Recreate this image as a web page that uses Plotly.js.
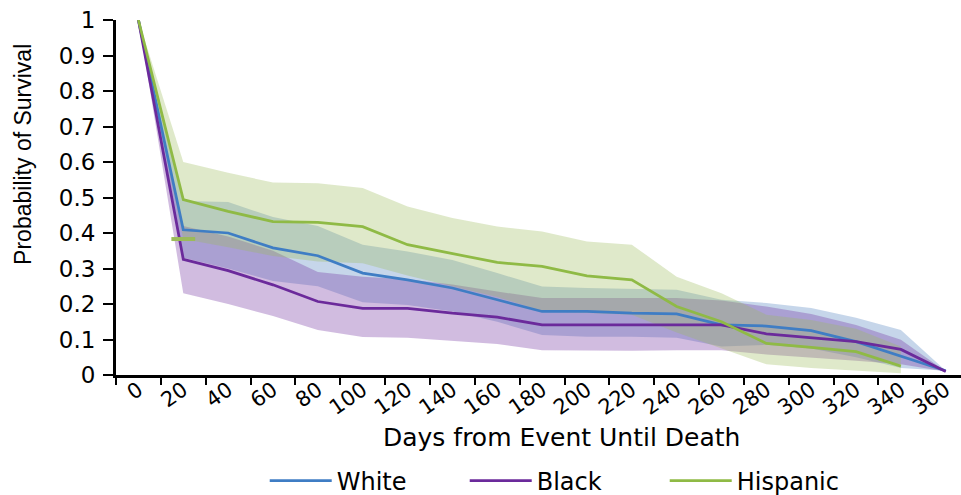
<!DOCTYPE html>
<html><head><meta charset="utf-8">
<script src="https://cdn.plot.ly/plotly-3.0.1.min.js"></script>
<style>html,body{margin:0;padding:0;background:#fff;overflow:hidden}#chart{width:961px;height:495px}</style>
</head><body><div id="chart"></div>
<script>
// Categories (days from event until death)
const days = ['0','20','40','60','80','100','120','140','160','180','200','220','240','260','280','300','320','340','360'];

// White
const white      = [1, 0.409, 0.400, 0.358, 0.336, 0.287, 0.268, 0.245, 0.212, 0.179, 0.179, 0.174, 0.172, 0.141, 0.138, 0.125, 0.094, 0.052, 0.012];
const whiteUpper = [1, 0.490, 0.487, 0.445, 0.420, 0.367, 0.348, 0.324, 0.287, 0.249, 0.245, 0.242, 0.240, 0.212, 0.203, 0.189, 0.161, 0.127, 0.012];
const whiteLower = [1, 0.330, 0.300, 0.265, 0.250, 0.205, 0.197, 0.179, 0.150, 0.113, 0.108, 0.108, 0.105, 0.080, 0.085, 0.075, 0.050, 0.020, 0.012];

// Black
const black      = [1, 0.326, 0.294, 0.254, 0.207, 0.188, 0.188, 0.174, 0.163, 0.141, 0.141, 0.141, 0.141, 0.141, 0.116, 0.105, 0.094, 0.072, 0.010];
const blackUpper = [1, 0.420, 0.390, 0.350, 0.290, 0.277, 0.270, 0.255, 0.235, 0.217, 0.217, 0.217, 0.217, 0.210, 0.193, 0.172, 0.141, 0.099, 0.010];
const blackLower = [1, 0.230, 0.200, 0.166, 0.127, 0.107, 0.105, 0.097, 0.087, 0.070, 0.068, 0.068, 0.070, 0.070, 0.058, 0.050, 0.040, 0.030, 0.010];

// Hispanic (no estimate at 360)
const hispanic      = [1, 0.494, 0.461, 0.432, 0.430, 0.418, 0.367, 0.343, 0.317, 0.306, 0.279, 0.268, 0.193, 0.150, 0.089, 0.078, 0.066, 0.025];
const hispanicUpper = [1, 0.600, 0.570, 0.542, 0.540, 0.527, 0.475, 0.442, 0.418, 0.404, 0.376, 0.367, 0.277, 0.230, 0.170, 0.155, 0.130, 0.080];
const hispanicLower = [1, 0.383, 0.360, 0.335, 0.320, 0.315, 0.280, 0.250, 0.220, 0.180, 0.175, 0.170, 0.120, 0.075, 0.030, 0.020, 0.012, 0.005];

const seriesNames = ['White', 'Black', 'Hispanic'];
const lineColors  = ['#3f7dc4', '#6b2a9b', '#8fba45'];
const bandColors  = ['rgba(79,129,189,0.32)', 'rgba(112,48,160,0.32)', 'rgba(155,187,89,0.32)'];

const groups = [
  {y: white, up: whiteUpper, lo: whiteLower},
  {y: black, up: blackUpper, lo: blackLower},
  {y: hispanic, up: hispanicUpper, lo: hispanicLower}
];

const traces = [];
groups.forEach((g, i) => {
  const xs = days.slice(0, g.up.length);
  traces.push({x: xs, y: g.up, type: 'scatter', mode: 'lines', line: {width: 0, color: bandColors[i]},
               showlegend: false, hoverinfo: 'skip', cliponaxis: false});
  traces.push({x: xs, y: g.lo, type: 'scatter', mode: 'lines', fill: 'tonexty', fillcolor: bandColors[i],
               line: {width: 0, color: bandColors[i]}, showlegend: false, hoverinfo: 'skip', cliponaxis: false});
});
groups.forEach((g, i) => {
  traces.push({x: days.slice(0, g.y.length), y: g.y, type: 'scatter', mode: 'lines', name: seriesNames[i],
               line: {width: 2.75, color: lineColors[i]}, cliponaxis: false});
});
// small dash marking the Hispanic lower bound at day 20
traces.push({x: [days[1]], y: [hispanicLower[1]], type: 'scatter', mode: 'markers', showlegend: false,
             hoverinfo: 'skip', marker: {symbol: 'line-ew', size: 17, line: {width: 4, color: '#9bbb59'}}});

const layout = {
  width: 961, height: 495,
  margin: {l: 116, r: 0, t: 20, b: 120, autoexpand: false},
  paper_bgcolor: '#fff', plot_bgcolor: '#fff',
  showlegend: true,
  xaxis: {
    type: 'category', categoryorder: 'array', categoryarray: days,
    range: [-0.5, 18.34], tickson: 'boundaries',
    ticks: 'outside', ticklen: 7, tickwidth: 2, tickcolor: '#000',
    showline: true, linecolor: '#000', linewidth: 2.5,
    showgrid: false, zeroline: false, tickangle: -35, automargin: false,
    ticklabelstandoff: -8,
    tickfont: {family: 'DejaVu Sans', size: 21, color: '#000'}
  },
  yaxis: {
    range: [0, 1], tick0: 0, dtick: 0.1,
    ticks: 'outside', ticklen: 10, tickwidth: 2, tickcolor: '#000',
    showline: true, linecolor: '#000', linewidth: 3,
    showgrid: false, zeroline: false, automargin: false,
    ticklabelstandoff: 3,
    tickfont: {family: 'DejaVu Sans', size: 23, color: '#000'}
  },
  annotations: [
    {text: 'Probability of Survival', textangle: -90, xref: 'paper', yref: 'paper',
     x: (23 - 116) / 845, y: 0.62, xanchor: 'center', yanchor: 'middle', showarrow: false,
     font: {family: 'Liberation Sans', size: 23, color: '#000'}},
    {text: 'Days from Event Until Death', xref: 'paper', yref: 'paper',
     x: (561.5 - 116) / 845, y: -0.175, xanchor: 'center', yanchor: 'middle', showarrow: false,
     font: {family: 'DejaVu Sans', size: 25, color: '#000'}}
  ],
  legend: {
    orientation: 'h', xref: 'paper', yref: 'paper', x: 0.176, xanchor: 'left', y: -0.299, yanchor: 'middle',
    font: {family: 'DejaVu Sans', size: 24, color: '#000'}, itemwidth: 62,
    entrywidth: 123, entrywidthmode: 'pixels',
    bgcolor: 'rgba(0,0,0,0)', traceorder: 'normal'
  }
};

Plotly.newPlot('chart', traces, layout, {staticPlot: true, displayModeBar: false});
</script>
</body></html>
